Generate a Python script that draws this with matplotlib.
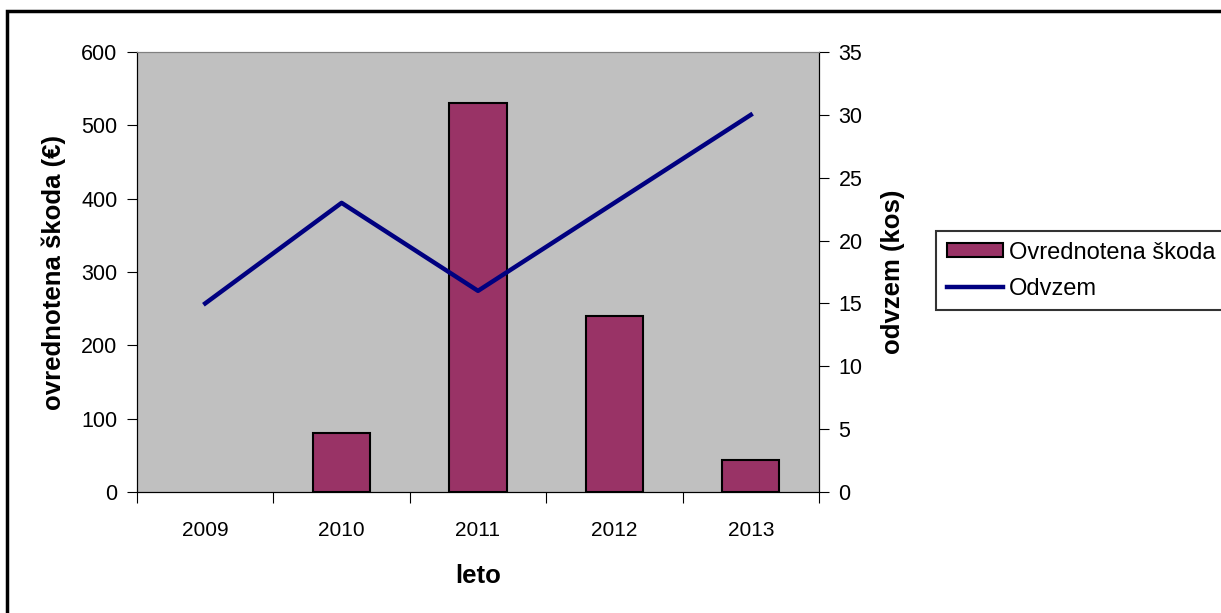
import matplotlib.pyplot as plt
import numpy as np
from matplotlib.patches import Rectangle, Patch

plt.rcParams['font.family'] = ['Liberation Sans', 'DejaVu Sans']

leta = ['2009', '2010', '2011', '2012', '2013']
skoda = [0, 80, 530, 240, 44]
odvzem = [15, 23, 16, 23, 30]

fig = plt.figure(figsize=(12.21, 6.13), dpi=100)
ax = fig.add_axes([137/1221, 121/613, 682/1221, 440/613])
ax.set_facecolor('#C0C0C0')

x = np.arange(len(leta))
# Excel ne riše obrobe pri ničelnem stolpcu
robovi = ['black' if v > 0 else 'none' for v in skoda]
ax.bar(x, skoda, width=0.42, color='#993366', edgecolor=robovi, linewidth=1.5, zorder=2)
ax.set_xlim(-0.5, len(leta) - 0.5)
ax.set_ylim(0, 600)
ax.set_yticks(range(0, 601, 100))

# kljukice na mejah kategorij, napisi na sredini
ax.set_xticks(np.arange(-0.5, len(leta), 1))
ax.set_xticklabels([])
ax.set_xticks(x, minor=True)
ax.set_xticklabels(leta, minor=True)
ax.tick_params(axis='x', which='major', length=8, direction='out')
ax.tick_params(axis='x', which='minor', length=0, pad=21, labelsize=15)
ax.tick_params(axis='y', length=7, direction='out', pad=7, labelsize=15.5)

ax.spines['top'].set_color('#808080')
for s in ['left', 'bottom', 'right']:
    ax.spines[s].set_color('black')

ax.set_xlabel('leto', fontsize=18.5, fontweight='bold', labelpad=17)
ax.set_ylabel('ovrednotena škoda (€)', fontsize=18.5, fontweight='bold', labelpad=11)

ax2 = ax.twinx()
crta, = ax2.plot(x, odvzem, color='#000080', linewidth=3.2, label='Odvzem', zorder=3)
ax2.set_ylim(0, 35)
ax2.set_yticks(range(0, 36, 5))
ax2.tick_params(axis='y', length=7, direction='out', pad=7, labelsize=15.5)
ax2.spines['top'].set_color('#808080')
ax2.set_ylabel('odvzem (kos)', fontsize=18.5, fontweight='bold', labelpad=13)

stolpec = Patch(facecolor='#993366', edgecolor='black', linewidth=1.5)
leg = fig.legend([stolpec, crta], ['Ovrednotena škoda', 'Odvzem'],
                 loc='upper left', mode='expand',
                 bbox_to_anchor=(936/1221, 0.3, 300/1221, 1 - 231/613 - 0.3),
                 fontsize=17, frameon=True, fancybox=False, edgecolor='black',
                 borderaxespad=0, handlelength=2.4, handleheight=0.55,
                 handletextpad=0.25, labelspacing=0.6, borderpad=0.45)
leg.get_frame().set_linewidth(1.5)

# okvir okoli celega grafa
fig.patches.append(Rectangle((7/1221, -0.1), 1.1, 1 - 11/613 + 0.1,
                             transform=fig.transFigure, fill=False,
                             edgecolor='black', linewidth=2.5, clip_on=False))

plt.savefig('out.png')
